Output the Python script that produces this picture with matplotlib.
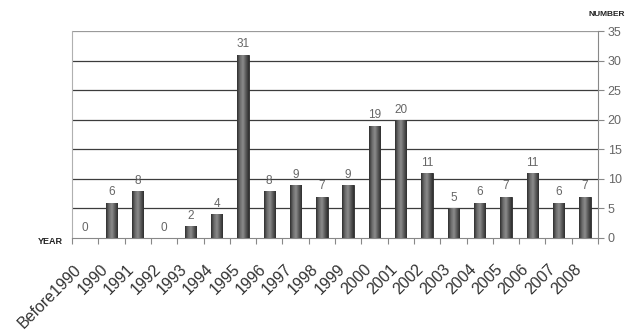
import numpy as np
import matplotlib
matplotlib.use("Agg")
import matplotlib.pyplot as plt
import matplotlib.transforms as mtransforms
from matplotlib.colors import LinearSegmentedColormap

# data
years = ["Before1990", "1990", "1991", "1992", "1993", "1994", "1995", "1996",
         "1997", "1998", "1999", "2000", "2001", "2002", "2003", "2004",
         "2005", "2006", "2007", "2008"]
counts = [0, 6, 8, 0, 2, 4, 31, 8, 9, 7, 9, 19, 20, 11, 5, 6, 7, 11, 6, 7]
yticks = [0, 5, 10, 15, 20, 25, 30, 35]

plt.rcParams["font.family"] = ["Liberation Sans", "DejaVu Sans"]

fig = plt.figure(figsize=(6.26, 3.34), dpi=100)
ax = fig.add_axes([72 / 626, 1 - 238 / 334, (598 - 72) / 626, (238 - 31) / 334])

x = np.arange(len(years))
bars = ax.bar(x, counts, width=0.43, color="#555555", edgecolor="#2a2a2a",
              linewidth=0.6, zorder=3)

# horizontal shading on each bar, like the old excel cylinder-ish look
shade = LinearSegmentedColormap.from_list(
    "shade", ["#2e2e2e", "#6a6a6a", "#8c8c8c", "#5a5a5a", "#2e2e2e"])
grad = np.linspace(0, 1, 64).reshape(1, -1)
for b, v in zip(bars, counts):
    if v == 0:
        continue
    x0 = b.get_x()
    w = b.get_width()
    im = ax.imshow(grad, cmap=shade, aspect="auto", zorder=3.5,
                   extent=(x0, x0 + w, 0, v), interpolation="bilinear")
    im.set_clip_path(b)

for xi, v in zip(x, counts):
    ax.annotate(str(v), (xi, v), xytext=(0, 3), textcoords="offset points",
                ha="center", va="bottom", fontsize=8.5, color="#666666")

ax.set_xlim(-0.5, len(years) - 0.5)
ax.set_ylim(0, 35)

# grid lines
for t in yticks[1:-1]:
    ax.axhline(t, color="#3c3c3c", linewidth=0.9, zorder=1)
ax.axhline(35, color="#9a9a9a", linewidth=0.9, zorder=1)

# right value axis
ax.yaxis.tick_right()
ax.set_yticks(yticks)
ax.tick_params(axis="y", direction="out", length=4, width=0.8, color="#888888",
               labelsize=9, labelcolor="#666666", pad=3)

# category axis: ticks between categories, labels slanted
ax.set_xticks(x)
ax.set_xticklabels(years, rotation=45, ha="right", va="top",
                   rotation_mode="anchor", fontsize=11.5, color="#333333")
ax.tick_params(axis="x", which="major", length=0, pad=17)
ax.set_xticks(np.arange(-0.5, len(years)), minor=True)
ax.tick_params(axis="x", which="minor", direction="out", length=4, width=0.8,
               color="#888888")
shift = mtransforms.ScaledTranslation(-0.11, 0, fig.dpi_scale_trans)
for lab in ax.get_xticklabels():
    lab.set_transform(lab.get_transform() + shift)

ax.spines["top"].set_visible(False)
ax.spines["left"].set_color("#b0b0b0")
ax.spines["right"].set_color("#888888")
ax.spines["bottom"].set_color("#888888")
for s in ax.spines.values():
    s.set_linewidth(0.8)

fig.text(50 / 626, 1 - 242 / 334, "YEAR", fontsize=6.5, fontweight="bold",
         ha="center", va="center", color="#222222")
fig.text(625 / 626, 1 - 15 / 334, "NUMBER", fontsize=6, fontweight="bold",
         ha="right", va="center", color="#222222")

fig.savefig("out.png", dpi=100)
